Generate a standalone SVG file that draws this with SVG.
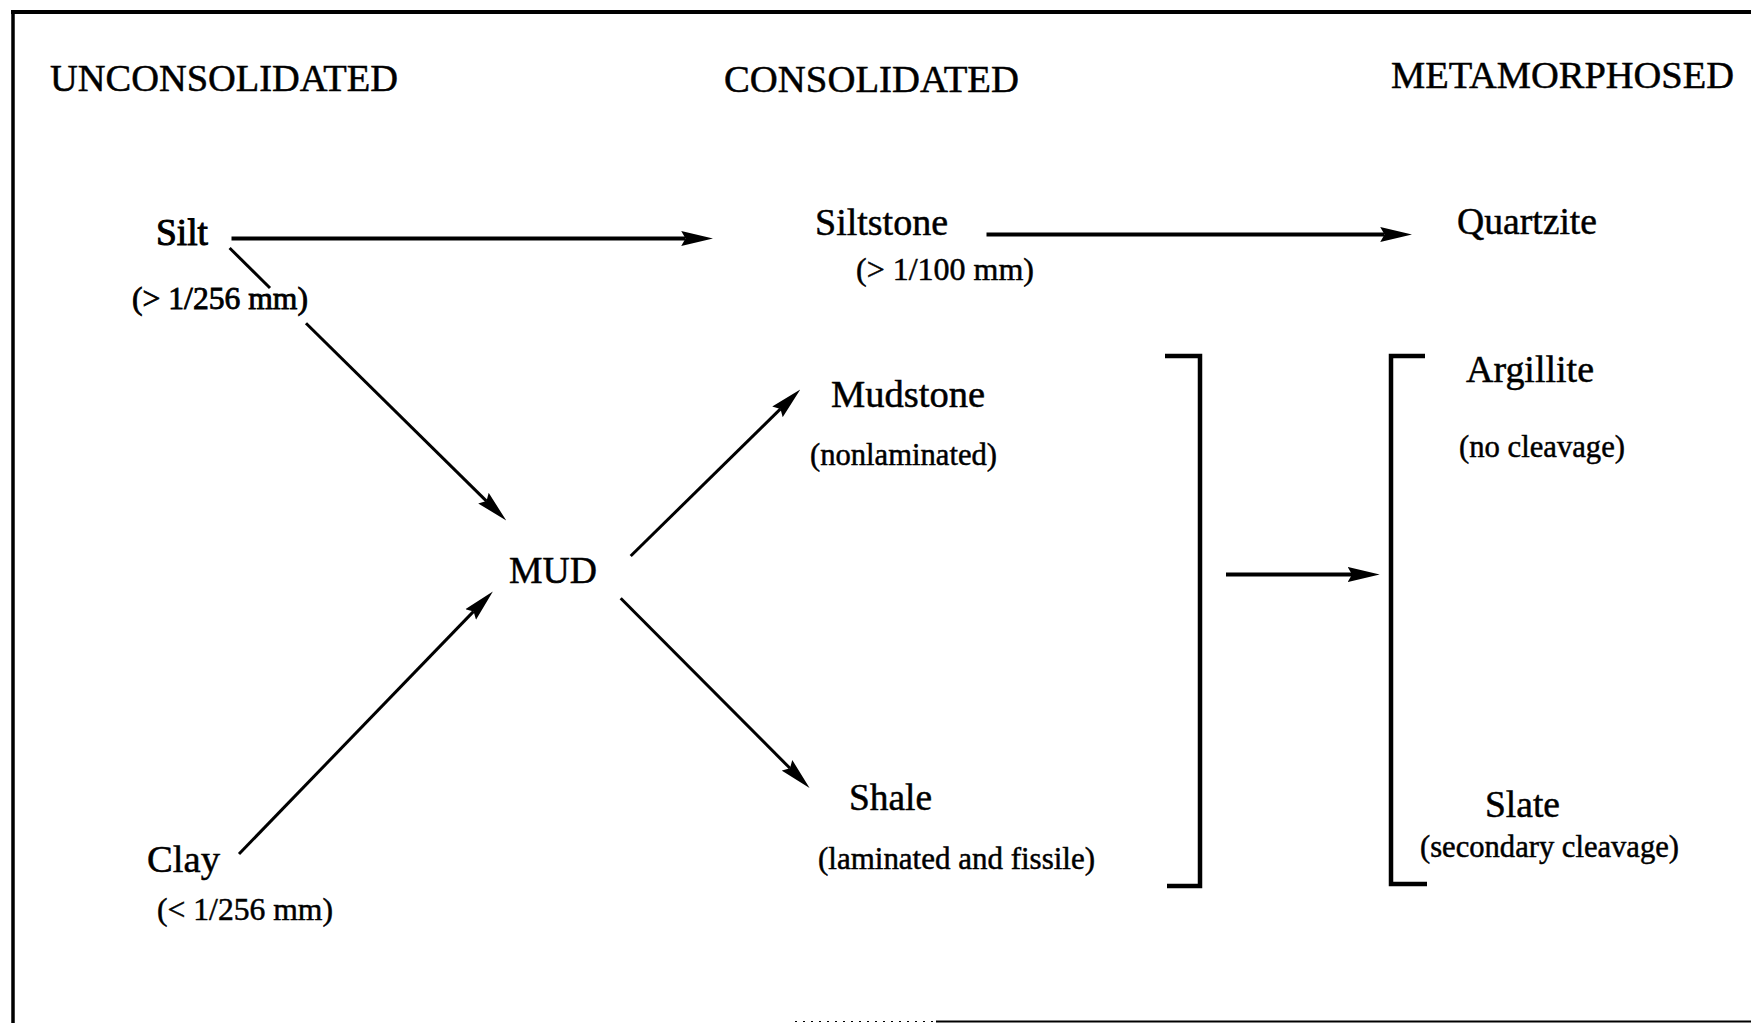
<svg xmlns="http://www.w3.org/2000/svg" width="1751" height="1023" viewBox="0 0 1751 1023">
  <style>
    text { font-family: "Liberation Serif", "Times New Roman", serif; fill: #000; stroke: #000; stroke-width: 0.5; }
    .head { font-size: 38px; }
    .lbl { font-size: 38px; }
    .sub { font-size: 31.5px; }
    .conn { stroke: #000; fill: none; stroke-linecap: butt; }
    .h { stroke-width: 4; }
    .d { stroke-width: 3; }
    .brk { stroke: #000; stroke-width: 4.5; fill: none; stroke-linejoin: miter; }
    .frame { stroke: #000; fill: none; }
  </style>
  <defs>
    <marker id="arr" markerUnits="userSpaceOnUse" markerWidth="32" markerHeight="16" viewBox="0 0 30 14" refX="4" refY="7" orient="auto">
      <path d="M0,0 L30,7 L0,14 L4,7 z" fill="#000"/>
    </marker>
  </defs>
  <rect x="0" y="0" width="1751" height="1023" fill="#fff"/>

  <g id="frame">
    <line class="frame" x1="11" y1="12" x2="1751" y2="12" stroke-width="4"/>
    <line class="frame" x1="13" y1="10" x2="13" y2="1023" stroke-width="3.5"/>
    <line class="frame" x1="936" y1="1021.5" x2="1751" y2="1021.5" stroke-width="2"/>
    <line class="frame" x1="795" y1="1021.5" x2="936" y2="1021.5" stroke-width="1.2" stroke-dasharray="2 6" stroke="#999"/>
  </g>

  <g id="headings">
    <text id="h-unconsolidated" class="head" x="50" y="91" textLength="348" lengthAdjust="spacingAndGlyphs">UNCONSOLIDATED</text>
    <text id="h-consolidated" class="head" x="724" y="92" textLength="295" lengthAdjust="spacingAndGlyphs">CONSOLIDATED</text>
    <text id="h-metamorphosed" class="head" x="1391" y="88" textLength="343" lengthAdjust="spacingAndGlyphs">METAMORPHOSED</text>
  </g>

  <g id="node-silt">
    <text class="lbl" x="156" y="245" textLength="52" lengthAdjust="spacingAndGlyphs" style="stroke-width:1">Silt</text>
    <text class="sub" x="132" y="309" textLength="176" lengthAdjust="spacingAndGlyphs" style="stroke-width:0.8">(&gt; 1/256 mm)</text>
  </g>
  <g id="node-clay">
    <text class="lbl" x="147" y="872" textLength="73" lengthAdjust="spacingAndGlyphs">Clay</text>
    <text class="sub" x="157" y="920" textLength="176" lengthAdjust="spacingAndGlyphs">(&lt; 1/256 mm)</text>
  </g>
  <g id="node-mud">
    <text class="lbl" x="509" y="583" textLength="88" lengthAdjust="spacingAndGlyphs">MUD</text>
  </g>
  <g id="node-siltstone">
    <text class="lbl" x="815" y="235" textLength="133" lengthAdjust="spacingAndGlyphs">Siltstone</text>
    <text class="sub" x="856" y="280" textLength="178" lengthAdjust="spacingAndGlyphs">(&gt; 1/100 mm)</text>
  </g>
  <g id="node-mudstone">
    <text class="lbl" x="831" y="407" textLength="154" lengthAdjust="spacingAndGlyphs">Mudstone</text>
    <text class="sub" x="810" y="465" textLength="187" lengthAdjust="spacingAndGlyphs">(nonlaminated)</text>
  </g>
  <g id="node-shale">
    <text class="lbl" x="849" y="810" textLength="83" lengthAdjust="spacingAndGlyphs">Shale</text>
    <text class="sub" x="818" y="869" textLength="277" lengthAdjust="spacingAndGlyphs">(laminated and fissile)</text>
  </g>
  <g id="node-quartzite">
    <text class="lbl" x="1457" y="234" textLength="140" lengthAdjust="spacingAndGlyphs">Quartzite</text>
  </g>
  <g id="node-argillite">
    <text class="lbl" x="1466" y="382" textLength="128" lengthAdjust="spacingAndGlyphs">Argillite</text>
    <text class="sub" x="1459" y="457" textLength="166" lengthAdjust="spacingAndGlyphs">(no cleavage)</text>
  </g>
  <g id="node-slate">
    <text class="lbl" x="1485" y="817" textLength="75" lengthAdjust="spacingAndGlyphs">Slate</text>
    <text class="sub" x="1420" y="857" textLength="259" lengthAdjust="spacingAndGlyphs">(secondary cleavage)</text>
  </g>

  <g id="brackets">
    <path id="bracket-consolidated" class="brk" d="M1165,356 H1200 V886 H1167"/>
    <path id="bracket-metamorphosed" class="brk" d="M1425,356 H1391 V884 H1427"/>
  </g>

  <g id="connectors">
    <line class="conn h" x1="231.5" y1="238.5" x2="685.5" y2="238.5" marker-end="url(#arr)"/>
    <line class="conn h" x1="986.5" y1="234.5" x2="1384.5" y2="234.5" marker-end="url(#arr)"/>
    <line class="conn h" x1="1226" y1="574.5" x2="1352" y2="574.5" marker-end="url(#arr)"/>
    <line class="conn d" x1="229.6" y1="248" x2="270" y2="288"/>
    <line class="conn d" x1="306" y1="323.3" x2="486.5" y2="501.1" marker-end="url(#arr)"/>
    <line class="conn d" x1="239" y1="854" x2="473.6" y2="611.4" marker-end="url(#arr)"/>
    <line class="conn d" x1="630.7" y1="556" x2="780.5" y2="408.9" marker-end="url(#arr)"/>
    <line class="conn d" x1="620.7" y1="598.3" x2="790" y2="768.3" marker-end="url(#arr)"/>
  </g>
</svg>
